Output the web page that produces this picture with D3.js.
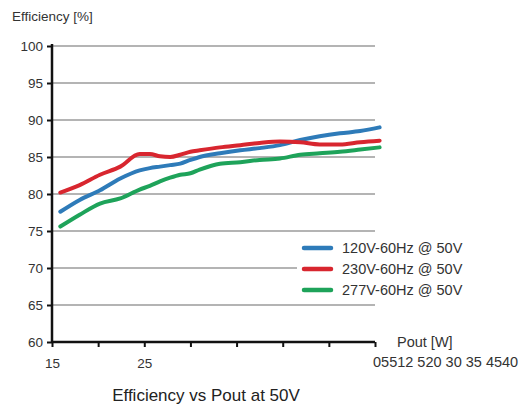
<!DOCTYPE html>
<html>
<head>
<meta charset="utf-8">
<script src="https://cdn.jsdelivr.net/npm/d3@7"></script>
<style>
  body { margin: 0; background: #fff; }
  svg { font-family: 'Liberation Sans', Arial, sans-serif; }
</style>
</head>
<body>
<svg id="canvas" width="521" height="409"></svg>
<script>
// Pout [W]
const pout = [15.9, 18, 20.2, 22.4, 24.5, 25.6, 26.7, 27.8, 28.9, 30, 31, 33.2, 35.4, 37.5, 39.7, 41.9, 44, 46.2, 48.4, 50.5];
const eff120 = [77.6, 79.2, 80.5, 82.1, 83.2, 83.5, 83.7, 83.9, 84.1, 84.6, 85.0, 85.5, 85.9, 86.2, 86.6, 87.3, 87.8, 88.2, 88.5, 89.0];
const eff230 = [80.2, 81.2, 82.6, 83.7, 85.4, 85.4, 85.1, 85.0, 85.3, 85.7, 85.9, 86.3, 86.6, 86.9, 87.1, 87.0, 86.7, 86.7, 87.0, 87.2];
const eff277 = [75.6, 77.2, 78.7, 79.4, 80.6, 81.1, 81.7, 82.2, 82.6, 82.8, 83.3, 84.1, 84.3, 84.6, 84.8, 85.3, 85.5, 85.7, 86.0, 86.3];

const seriesNames = ['120V-60Hz @ 50V', '230V-60Hz @ 50V', '277V-60Hz @ 50V'];
const seriesColors = ['#2e7bb9', '#d8262f', '#1ea35a'];
const yTicks = [60, 65, 70, 75, 80, 85, 90, 95, 100];
const xTicks = [15, 20, 25, 30, 35, 40, 45, 50];
const xTickLabels = ['15', '', '25', '', '', '', '', ''];
const strayXLabel = '05512 520 30 35 4540';

const svg = d3.select('#canvas');

const x = d3.scaleLinear().domain([15, 50]).range([52, 375]);
const y = d3.scaleLinear().domain([60, 100]).range([342, 46]);

// gridlines
svg.append('g')
  .selectAll('line')
  .data(yTicks.filter((t) => t > 60))
  .enter()
  .append('line')
  .attr('x1', x(15))
  .attr('x2', x(50))
  .attr('y1', (t) => y(t))
  .attr('y2', (t) => y(t))
  .attr('stroke', '#b4b4b4')
  .attr('stroke-width', 2);

// lines
const series = [eff120, eff230, eff277];
const line = d3.line()
  .x((d, i) => x(pout[i]))
  .y((d) => y(d))
  .curve(d3.curveMonotoneX);

svg.append('g')
  .selectAll('path')
  .data(series)
  .enter()
  .append('path')
  .attr('d', (d) => line(d))
  .attr('fill', 'none')
  .attr('stroke', (d, i) => seriesColors[i])
  .attr('stroke-width', 4)
  .attr('stroke-linecap', 'round');

// axes
const yAxis = svg.append('g')
  .attr('transform', 'translate(' + x(15) + ',0)')
  .call(d3.axisLeft(y).tickValues(yTicks).tickSize(5).tickPadding(4));
const xAxis = svg.append('g')
  .attr('transform', 'translate(0,' + y(60) + ')')
  .call(d3.axisBottom(x).tickValues(xTicks).tickSize(5).tickPadding(11)
    .tickFormat((d, i) => xTickLabels[i]));

[yAxis, xAxis].forEach((ax) => {
  ax.select('.domain').attr('stroke', '#111').attr('stroke-width', 2.5);
  ax.selectAll('.tick line').attr('stroke', '#111').attr('stroke-width', 2);
  ax.selectAll('text')
    .attr('font-size', 13.5)
    .attr('fill', '#333')
    .attr('font-family', "'Liberation Sans', Arial, sans-serif");
});
xAxis.select('.domain').attr('d', 'M' + x(15) + ',0H' + x(50));
yAxis.select('.domain').attr('d', 'M0,' + y(60) + 'V' + (y(100) - 2));

// axis titles
svg.append('text')
  .attr('x', 12)
  .attr('y', 21)
  .attr('font-size', 13.5)
  .attr('fill', '#333')
  .text('Efficiency [%]');

svg.append('text')
  .attr('x', 397)
  .attr('y', 347)
  .attr('font-size', 14.5)
  .attr('fill', '#333')
  .text('Pout [W]');

svg.append('text')
  .attr('x', 373)
  .attr('y', 367)
  .attr('font-size', 14.5)
  .attr('fill', '#333')
  .text(strayXLabel);

// legend
const legend = svg.append('g');
legend.append('rect')
  .attr('x', 297)
  .attr('y', 238)
  .attr('width', 190)
  .attr('height', 62)
  .attr('fill', '#fff');

const item = legend.selectAll('g.item')
  .data(seriesNames)
  .enter()
  .append('g')
  .attr('class', 'item')
  .attr('transform', (d, i) => 'translate(0,' + (248 + i * 21) + ')');

item.append('line')
  .attr('x1', 304)
  .attr('x2', 331)
  .attr('stroke', (d, i) => seriesColors[i])
  .attr('stroke-width', 4.5)
  .attr('stroke-linecap', 'round');

item.append('text')
  .attr('x', 342)
  .attr('y', 5)
  .attr('font-size', 14.5)
  .attr('fill', '#333')
  .text((d) => d);

// title
svg.append('text')
  .attr('x', 206)
  .attr('y', 401)
  .attr('text-anchor', 'middle')
  .attr('font-size', 17)
  .attr('fill', '#222')
  .text('Efficiency vs Pout at 50V');
</script>
</body>
</html>
